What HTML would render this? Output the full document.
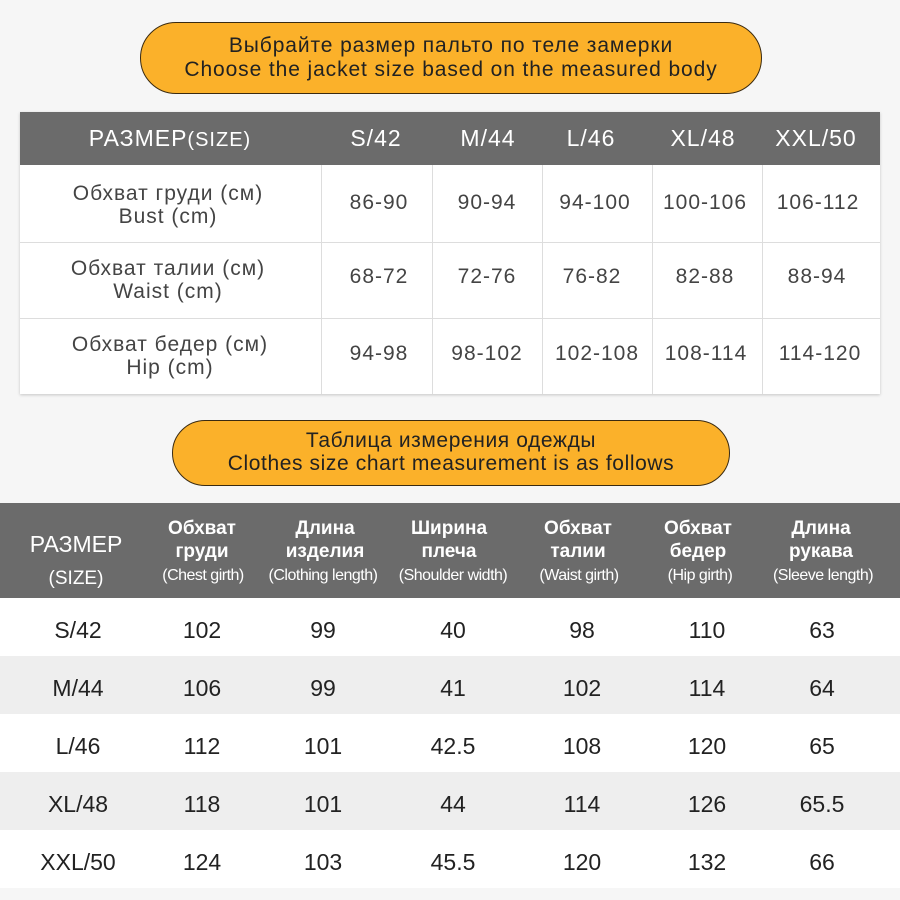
<!DOCTYPE html>
<html><head><meta charset="utf-8"><style>
body{margin:0;width:900px;height:900px;background:#f6f6f6;font-family:"Liberation Sans",sans-serif;position:relative;overflow:hidden;color:#333}
.pill{position:absolute;background:#fbb12a;border:1.5px solid #3a2a10;border-radius:40px;text-align:center;color:#222;box-sizing:border-box}
.abs{position:absolute;white-space:nowrap;transform:translateX(-50%);text-align:center}
</style></head><body>
<div class="pill" style="left:140px;top:22px;width:622px;height:72px;font-size:21px;line-height:24px;padding-top:11px;letter-spacing:0.9px">Выбрайте размер пальто по теле замерки<br>Choose the jacket size based on the measured body</div>

<div style="position:absolute;left:20px;top:112px;width:860px;height:282px;background:#fff;box-shadow:0 1px 3px rgba(0,0,0,.2)"></div>
<div style="position:absolute;left:20px;top:112px;width:860px;height:53px;background:#6b6b6b"></div>
<div style="position:absolute;left:20px;top:242px;width:860px;height:1px;background:#ddd"></div>
<div style="position:absolute;left:20px;top:318px;width:860px;height:1px;background:#ddd"></div>
<div style="position:absolute;left:321px;top:165px;width:1px;height:229px;background:#ddd"></div>
<div style="position:absolute;left:432px;top:165px;width:1px;height:229px;background:#ddd"></div>
<div style="position:absolute;left:542px;top:165px;width:1px;height:229px;background:#ddd"></div>
<div style="position:absolute;left:652px;top:165px;width:1px;height:229px;background:#ddd"></div>
<div style="position:absolute;left:762px;top:165px;width:1px;height:229px;background:#ddd"></div>

<div style="color:#fff;font-size:23px;letter-spacing:1px">
<div class="abs" style="left:170px;top:125px">РАЗМЕР<span style="font-size:20px">(SIZE)</span></div>
<div class="abs" style="left:376px;top:125px">S/42</div>
<div class="abs" style="left:488px;top:125px">M/44</div>
<div class="abs" style="left:591px;top:125px">L/46</div>
<div class="abs" style="left:703px;top:125px">XL/48</div>
<div class="abs" style="left:816px;top:125px">XXL/50</div>
</div>
<div style="color:#444;font-size:21px;line-height:23px;letter-spacing:1px">
<div class="abs" style="left:168px;top:182px">Обхват груди (см)<br>Bust (cm)</div>
<div class="abs" style="left:168px;top:257px">Обхват талии (см)<br>Waist (cm)</div>
<div class="abs" style="left:170px;top:333px">Обхват бедер (см)<br>Hip (cm)</div>
<div class="abs" style="left:379px;top:191px">86-90</div><div class="abs" style="left:487px;top:191px">90-94</div><div class="abs" style="left:595px;top:191px">94-100</div><div class="abs" style="left:705px;top:191px">100-106</div><div class="abs" style="left:818px;top:191px">106-112</div>
<div class="abs" style="left:379px;top:265px">68-72</div><div class="abs" style="left:487px;top:265px">72-76</div><div class="abs" style="left:592px;top:265px">76-82</div><div class="abs" style="left:705px;top:265px">82-88</div><div class="abs" style="left:817px;top:265px">88-94</div>
<div class="abs" style="left:379px;top:342px">94-98</div><div class="abs" style="left:487px;top:342px">98-102</div><div class="abs" style="left:597px;top:342px">102-108</div><div class="abs" style="left:706px;top:342px">108-114</div><div class="abs" style="left:820px;top:342px">114-120</div>
</div>

<div class="pill" style="left:172px;top:420px;width:558px;height:66px;font-size:21px;line-height:23px;padding-top:8px;letter-spacing:0.6px">Таблица измерения одежды<br>Clothes size chart measurement is as follows</div>

<div style="position:absolute;left:0;top:503px;width:900px;height:95px;background:#6b6b6b"></div>
<div style="position:absolute;left:0;top:598px;width:900px;height:58px;background:#fff"></div>
<div style="position:absolute;left:0;top:656px;width:900px;height:58px;background:#eeeeee"></div>
<div style="position:absolute;left:0;top:714px;width:900px;height:58px;background:#fff"></div>
<div style="position:absolute;left:0;top:772px;width:900px;height:58px;background:#eeeeee"></div>
<div style="position:absolute;left:0;top:830px;width:900px;height:58px;background:#fff"></div>

<div style="color:#fff">
<div class="abs" style="left:76px;top:528px;font-size:23px;line-height:32px">РАЗМЕР<br><span style="font-size:19px">(SIZE)</span></div>
<div style="font-size:19px;font-weight:bold;line-height:23px">
<div class="abs" style="left:202px;top:517px">Обхват<br>груди</div>
<div class="abs" style="left:325px;top:517px">Длина<br>изделия</div>
<div class="abs" style="left:449px;top:517px">Ширина<br>плеча</div>
<div class="abs" style="left:578px;top:517px">Обхват<br>талии</div>
<div class="abs" style="left:698px;top:517px">Обхват<br>бедер</div>
<div class="abs" style="left:821px;top:517px">Длина<br>рукава</div>
</div>
<div style="font-size:16px;letter-spacing:-0.5px">
<div class="abs" style="left:203px;top:567px">(Chest girth)</div>
<div class="abs" style="left:323px;top:567px">(Clothing length)</div>
<div class="abs" style="left:453px;top:567px">(Shoulder width)</div>
<div class="abs" style="left:579px;top:567px">(Waist girth)</div>
<div class="abs" style="left:700px;top:567px">(Hip girth)</div>
<div class="abs" style="left:823px;top:567px">(Sleeve length)</div>
</div></div>

<div style="font-size:23px;color:#222">
<div class="abs" style="left:78px;top:617px">S/42</div><div class="abs" style="left:202px;top:617px">102</div><div class="abs" style="left:323px;top:617px">99</div><div class="abs" style="left:453px;top:617px">40</div><div class="abs" style="left:582px;top:617px">98</div><div class="abs" style="left:707px;top:617px">110</div><div class="abs" style="left:822px;top:617px">63</div>
<div class="abs" style="left:78px;top:675px">M/44</div><div class="abs" style="left:202px;top:675px">106</div><div class="abs" style="left:323px;top:675px">99</div><div class="abs" style="left:453px;top:675px">41</div><div class="abs" style="left:582px;top:675px">102</div><div class="abs" style="left:707px;top:675px">114</div><div class="abs" style="left:822px;top:675px">64</div>
<div class="abs" style="left:78px;top:733px">L/46</div><div class="abs" style="left:202px;top:733px">112</div><div class="abs" style="left:323px;top:733px">101</div><div class="abs" style="left:453px;top:733px">42.5</div><div class="abs" style="left:582px;top:733px">108</div><div class="abs" style="left:707px;top:733px">120</div><div class="abs" style="left:822px;top:733px">65</div>
<div class="abs" style="left:78px;top:791px">XL/48</div><div class="abs" style="left:202px;top:791px">118</div><div class="abs" style="left:323px;top:791px">101</div><div class="abs" style="left:453px;top:791px">44</div><div class="abs" style="left:582px;top:791px">114</div><div class="abs" style="left:707px;top:791px">126</div><div class="abs" style="left:822px;top:791px">65.5</div>
<div class="abs" style="left:78px;top:849px">XXL/50</div><div class="abs" style="left:202px;top:849px">124</div><div class="abs" style="left:323px;top:849px">103</div><div class="abs" style="left:453px;top:849px">45.5</div><div class="abs" style="left:582px;top:849px">120</div><div class="abs" style="left:707px;top:849px">132</div><div class="abs" style="left:822px;top:849px">66</div>
</div>
</body></html>
